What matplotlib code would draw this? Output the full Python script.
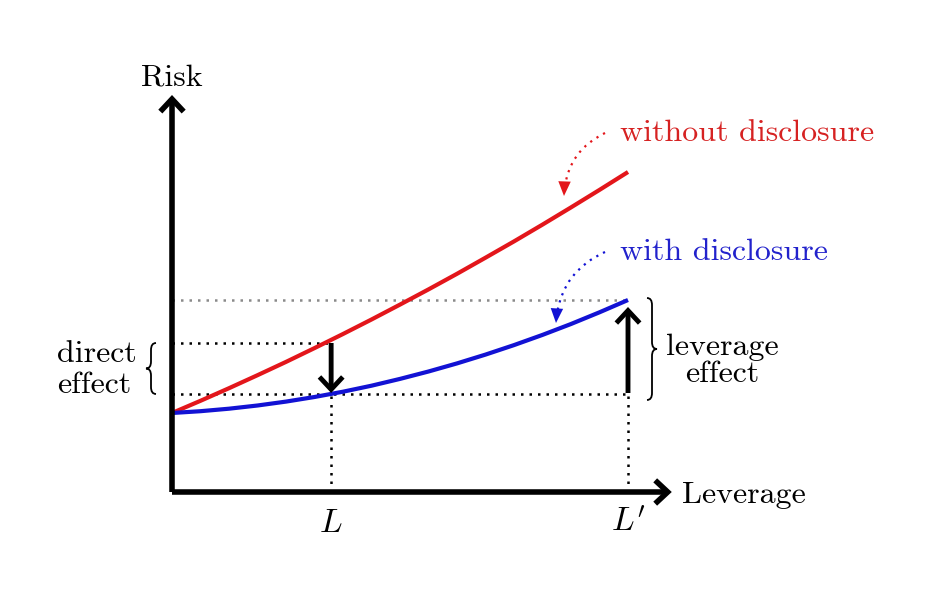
import matplotlib
matplotlib.use("Agg")
import matplotlib.pyplot as plt
from matplotlib.patches import FancyArrowPatch, PathPatch
from matplotlib.path import Path

plt.rcParams['mathtext.fontset'] = 'cm'
plt.rcParams['font.family'] = ['cmr10', 'DejaVu Serif']
plt.rcParams['axes.formatter.use_mathtext'] = True

# ---- data ----
leverage = [0.0, 0.0625, 0.125, 0.1875, 0.25, 0.3125, 0.375, 0.4375, 0.5,
            0.5625, 0.625, 0.6875, 0.75, 0.8125, 0.875, 0.9375, 1.0]
risk_without = [0.790, 0.912, 1.038, 1.168, 1.301, 1.439, 1.580, 1.725, 1.874,
                2.026, 2.182, 2.343, 2.506, 2.674, 2.846, 3.021, 3.200]
risk_with = [0.790, 0.808, 0.833, 0.865, 0.904, 0.950, 1.003, 1.063, 1.131,
             1.205, 1.286, 1.374, 1.469, 1.571, 1.680, 1.797, 1.920]
L_val = 0.349
Lp_val = 1.0
risk_without_at_L = 1.49
risk_with_at_L = 0.98
risk_with_at_Lp = 1.92
x_axis_label = "Leverage"
y_axis_label = "Risk"
tick_labels = [r"$L$", r"$L'$"]
series_labels = ["without disclosure", "with disclosure"]

RED = '#e3161b'
BLUE = '#1212d4'
RED_T = '#d62222'
BLUE_T = '#2222cc'

fig = plt.figure(figsize=(9.25, 6), dpi=100)
ax = fig.add_axes([0, 0, 1, 1])
ax.set_xlim(-172 / 456, (925 - 172) / 456)
ax.set_ylim(-1.08, 4.92)
ax.axis('off')

FS = 23

# dotted guide lines
dot = dict(color='black', lw=1.8, dashes=(1.0, 2.4), dash_capstyle='butt')
ax.plot([0, Lp_val], [risk_with_at_Lp, risk_with_at_Lp], color='#8a8a8a', lw=1.8,
        dashes=(1.0, 2.4), dash_capstyle='butt')
ax.plot([0, L_val], [risk_without_at_L, risk_without_at_L], **dot)
ax.plot([0, Lp_val], [risk_with_at_L, risk_with_at_L], **dot)
ax.plot([L_val, L_val], [0, risk_with_at_L], **dot)
ax.plot([Lp_val, Lp_val], [0, risk_with_at_L], **dot)

# curves
ax.plot(leverage, risk_without, color=RED, lw=3.0, solid_capstyle='butt', zorder=3)
ax.plot(leverage, risk_with, color=BLUE, lw=3.0, solid_capstyle='butt', zorder=3)

# axes arrows
def thick_arrow(p0, p1, lw=4.0, ms=20):
    a = FancyArrowPatch(p0, p1, arrowstyle='->,head_length=0.45,head_width=0.42',
                        mutation_scale=ms, lw=lw, color='black',
                        shrinkA=0, shrinkB=0, capstyle='butt', joinstyle='miter', zorder=4)
    ax.add_patch(a)

thick_arrow((0, 0), (0, 3.97))
thick_arrow((0, 0), (1.096, 0))
thick_arrow((L_val, risk_without_at_L), (L_val, risk_with_at_L + 0.01), lw=3.5)
thick_arrow((Lp_val, 0.99), (Lp_val, 1.85), lw=3.5)

# labels
ax.text(0, 4.14, y_axis_label, ha='center', va='center', fontsize=FS)
ax.text(1.118, -0.03, x_axis_label, ha='left', va='center', fontsize=FS)
ax.text(L_val, -0.31, tick_labels[0], ha='center', va='center', fontsize=FS + 1)
ax.text(Lp_val, -0.31, tick_labels[1], ha='center', va='center', fontsize=FS + 1)

ax.text(0.982, 3.59, series_labels[0], ha='left', va='center', fontsize=FS, color=RED_T)
ax.text(0.982, 2.40, series_labels[1], ha='left', va='center', fontsize=FS, color=BLUE_T)

ax.text((137 - 172) / 456, 1.22, "direct\neffect", ha='right', va='center',
        multialignment='left', fontsize=FS, linespacing=1.15)
ax.text((722 - 172) / 456, 1.31, "leverage\neffect", ha='center', va='center',
        multialignment='center', fontsize=FS, linespacing=1.0)

# braces
def brace(x_tip, y_bot, y_top, w, q):
    xb = x_tip + w
    xc = x_tip + w / 2
    ym = (y_bot + y_top) / 2
    verts = [(xb, y_top), (xc, y_top), (xc, y_top - q),
             (xc, ym + q),
             (xc, ym), (x_tip, ym),
             (xc, ym), (xc, ym - q),
             (xc, y_bot + q),
             (xc, y_bot), (xb, y_bot)]
    codes = [Path.MOVETO, Path.CURVE3, Path.CURVE3,
             Path.LINETO,
             Path.CURVE3, Path.CURVE3,
             Path.CURVE3, Path.CURVE3,
             Path.LINETO,
             Path.CURVE3, Path.CURVE3]
    ax.add_patch(PathPatch(Path(verts, codes), fill=False, lw=1.3, color='black'))

brace((146 - 172) / 456, 0.98, 1.49, 10 / 456, 0.07)
brace((657 - 172) / 456, 0.92, 1.94, -10 / 456, 0.07)

# dotted pointer arrows
def pointer(p0, p1, color, rad):
    a = FancyArrowPatch(p0, p1, arrowstyle='-', connectionstyle=f'arc3,rad={rad}',
                        lw=1.6, color=color, linestyle=(0, (1.0, 2.4)), shrinkA=0, shrinkB=6,
                        capstyle='butt')
    ax.add_patch(a)
    h = FancyArrowPatch(p0, p1, arrowstyle='-|>,head_length=0.75,head_width=0.32',
                        connectionstyle=f'arc3,rad={rad}', lw=0.01, color=color,
                        shrinkA=0, shrinkB=0, mutation_scale=14)
    h.set_linewidth(0)
    ax.add_patch(h)

pointer(((605 - 172) / 456, 3.59), ((564 - 172) / 456, 2.96), RED, 0.3)
pointer(((605 - 172) / 456, 2.40), ((556 - 172) / 456, 1.69), BLUE, 0.3)

fig.savefig('out.png', dpi=100)
